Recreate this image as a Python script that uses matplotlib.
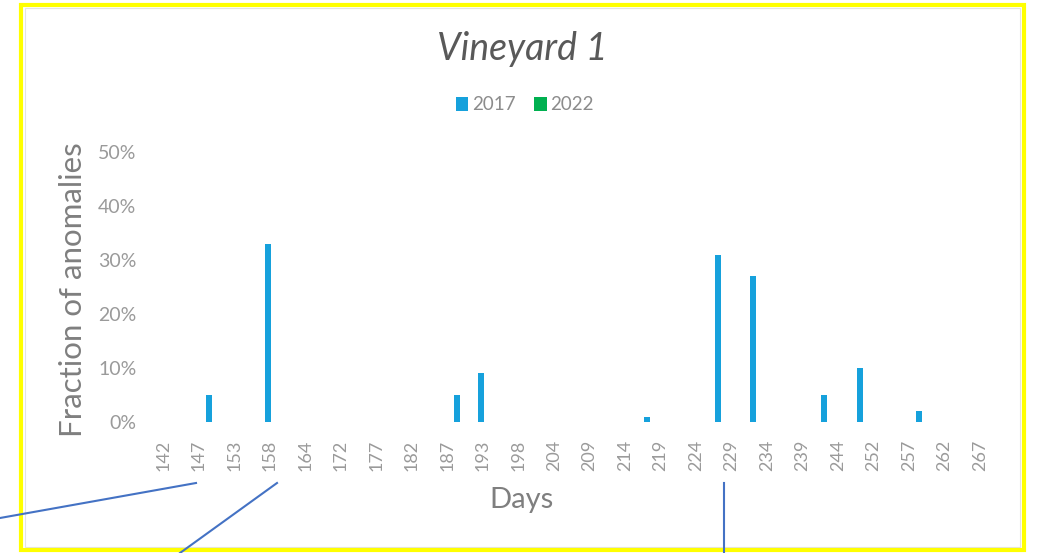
import matplotlib
matplotlib.use("Agg")
import matplotlib.pyplot as plt
from matplotlib.lines import Line2D
from matplotlib.patches import Rectangle, Patch
from matplotlib.ticker import PercentFormatter
import numpy as np

# Sampling days shown on the category axis (one label every third sample)
tick_days = [142, 147, 153, 158, 164, 172, 177, 182, 187, 193, 198, 204,
             209, 214, 219, 224, 229, 234, 239, 244, 252, 257, 262, 267]
label_step = 3
n_samples = 72

# Samples with detected anomalies (sample slot -> fraction)
slots_2017 = [4, 9, 25, 27, 41, 47, 50, 56, 59, 64]
fraction_2017 = [0.05, 0.33, 0.05, 0.09, 0.01, 0.31, 0.27, 0.05, 0.10, 0.02]
slots_2022 = []
fraction_2022 = []

series_names = ["2017", "2022"]
series_colors = ["#16a1dc", "#00b050"]

W, H = 1041, 553
fig = plt.figure(figsize=(W / 100, H / 100), dpi=100)
fig.patch.set_facecolor("white")

def px(x, y):
    return x / W, 1 - y / H

# plot area in pixels
left_px, right_px, top_px, bottom_px = 157.1, 1009.6, 152, 422
ax = fig.add_axes([left_px / W, 1 - bottom_px / H,
                   (right_px - left_px) / W, (bottom_px - top_px) / H])

v2017 = np.zeros(n_samples)
v2017[slots_2017] = fraction_2017
v2022 = np.zeros(n_samples)
v2022[slots_2022] = fraction_2022

x = np.arange(n_samples)
off, bw = 0.14, 0.5
ax.bar(x - off, v2017, width=bw, color=series_colors[0], linewidth=0)
ax.bar(x + off, v2022, width=bw, color=series_colors[1], linewidth=0)

ax.set_xlim(-0.5, n_samples - 0.5)
ax.set_ylim(0, 0.5)
ax.set_yticks(np.arange(0, 0.51, 0.1))
ax.yaxis.set_major_formatter(PercentFormatter(1.0, decimals=0))
ax.set_xticks(np.arange(0, len(tick_days) * label_step, label_step))
ax.set_xticklabels([str(d) for d in tick_days], rotation=90)

font = "Lato"
tick_col = "#9a9a9a"
for lab in ax.get_yticklabels():
    lab.set_fontfamily(font)
    lab.set_fontsize(14)
    lab.set_color(tick_col)
for lab in ax.get_xticklabels():
    lab.set_fontfamily(font)
    lab.set_fontsize(13)
    lab.set_color(tick_col)
ax.tick_params(axis="both", length=0)
ax.tick_params(axis="x", pad=13)
ax.tick_params(axis="y", pad=15)
for s in ax.spines.values():
    s.set_visible(False)
ax.set_facecolor("none")

ax.set_xlabel("Days", fontfamily=font, fontsize=21, color="#7f7f7f", va="center")
ax.xaxis.set_label_coords((522 - left_px) / (right_px - left_px),
                          (bottom_px - 500) / (bottom_px - top_px))
ax.set_ylabel("Fraction of anomalies", fontfamily=font, fontsize=22.5,
              color="#7f7f7f", va="center")
ax.yaxis.set_label_coords((73 - left_px) / (right_px - left_px),
                          (bottom_px - 290) / (bottom_px - top_px))

fig.text(*px(522, 49), "Vineyard 1", ha="center", va="center",
         fontfamily=font, fontstyle="italic", fontsize=27, color="#595959")

handles = [Patch(facecolor=c, edgecolor="none") for c in series_colors]
leg = fig.legend(handles, series_names, loc="center",
                 bbox_to_anchor=px(525, 105), ncol=2, frameon=False,
                 handlelength=0.65, handleheight=0.75, handletextpad=0.2,
                 columnspacing=1.0, prop={"family": font, "size": 13.5})
for t in leg.get_texts():
    t.set_color("#8c8c8c")

# chart frame
fig.add_artist(Rectangle(px(25, 547), (1020 - 25) / W, (547 - 8) / H,
                         transform=fig.transFigure, fill=False,
                         edgecolor="#e3e3e3", linewidth=0.8))
fig.add_artist(Rectangle(px(21, 549.5), (1024 - 21) / W, (549.5 - 5) / H,
                         transform=fig.transFigure, fill=False,
                         edgecolor="#ffff00", linewidth=3.0))

# pointer lines
for (x0, y0), (x1, y1) in [((0, 518), (196, 483)),
                           ((180, 553), (277, 483)),
                           ((724, 553), (724, 483))]:
    a, b = px(x0, y0), px(x1, y1)
    fig.add_artist(Line2D([a[0], b[0]], [a[1], b[1]], transform=fig.transFigure,
                          color="#4472c4", linewidth=1.5))

fig.savefig("out.png", dpi=100, facecolor="white")
